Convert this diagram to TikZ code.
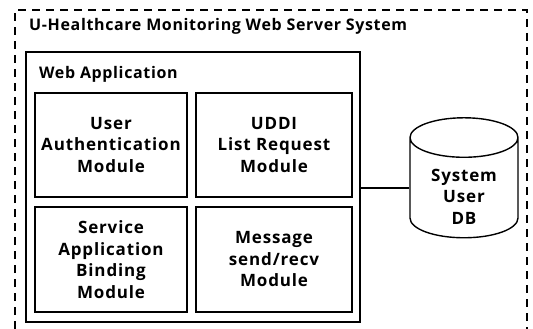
\documentclass[tikz,border=0pt]{standalone}
\usepackage{fontspec}
\setmainfont{Open Sans}
\newfontfamily\titlefont[LetterSpace=4]{Open Sans}
\newfontfamily\modfont[LetterSpace=5]{Open Sans}
\usetikzlibrary{shapes.geometric}
\begin{document}
\begin{tikzpicture}[x=1pt,y=-1pt,
  every node/.style={font=\modfont\fontsize{17}{21.5}\selectfont\bfseries},
  ttl/.style={font=\titlefont\fontsize{16}{21.5}\selectfont\bfseries,anchor=west,inner sep=0pt},
  modbox/.style={draw,line width=1.4pt,align=center,inner sep=0pt},
  appbox/.style={draw,line width=1.7pt,inner sep=0pt},
  frame/.style={line width=1.6pt,dash pattern=on 8pt off 6pt},
  conn/.style={line width=1.4pt}]
\useasboundingbox (0,0) rectangle (533,329);
\draw[frame] (15,329) -- (15,10) -- (527,10) -- (527,329);
\node[ttl] (title) at (29,26) {U-Healthcare Monitoring Web Server System};
\node[appbox,minimum width=334pt,minimum height=270pt] (web) at (193,187) {};
\node[ttl] (webtitle) at (39,74) {Web Application};
\node[modbox,minimum width=152pt,minimum height=104pt] (m1) at (111,145) {User\\Authentication\\Module};
\node[modbox,minimum width=156pt,minimum height=104pt] (m2) at (274,145) {UDDI\\List Request\\Module};
\node[modbox,minimum width=152pt,minimum height=105pt] (m3) at (111,259.5) {Service\\Application\\Binding\\Module};
\node[modbox,minimum width=156pt,minimum height=105pt] (m4) at (274,259.5) {Message\\send/recv\\Module};
\node[cylinder,shape border rotate=90,draw,line width=1.4pt,aspect=0.6,
  minimum width=108pt,minimum height=120pt,inner sep=0pt] (db) at (464,188)
  {\raisebox{-15pt}[0pt][0pt]{\begin{tabular}{@{}c@{}}System\\User\\DB\end{tabular}}};
\draw[conn] (db.west) -- (db.west -| web.east);
\end{tikzpicture}
\end{document}
